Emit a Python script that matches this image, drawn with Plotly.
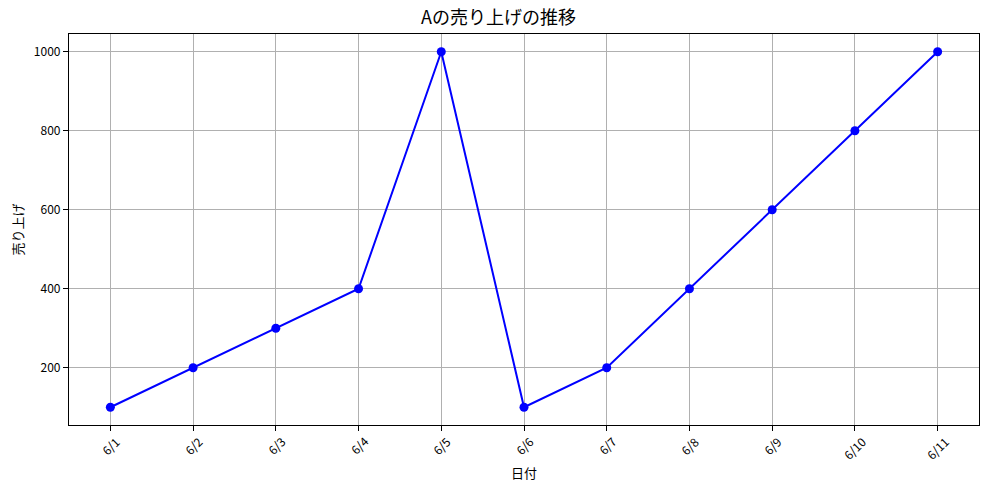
import plotly.graph_objects as go

# daily sales of A
dates = ["6/1", "6/2", "6/3", "6/4", "6/5", "6/6", "6/7", "6/8", "6/9", "6/10", "6/11"]
sales = [100, 200, 300, 400, 1000, 100, 200, 400, 600, 800, 1000]
y_ticks = [200, 400, 600, 800, 1000]

FONT = "Noto Sans CJK JP"
W, H = 981, 482  # page has an 8px body margin

x_pos = list(range(len(dates)))

fig = go.Figure(
    go.Scatter(
        x=x_pos,
        y=sales,
        mode="lines+markers",
        line=dict(color="blue", width=2),
        marker=dict(color="blue", size=9),
    )
)

axis_style = dict(
    showline=True,
    linecolor="black",
    linewidth=1.2,
    mirror=True,
    showgrid=True,
    gridcolor="#b0b0b0",
    gridwidth=1,
    ticks="outside",
    ticklen=5,
    tickcolor="black",
    zeroline=False,
    tickfont=dict(family=FONT, size=12, color="black"),
)

# x tick labels drawn as rotated annotations so they sit centred under the ticks
fig.update_xaxes(
    axis_style,
    range=[-0.5, 10.5],
    tickmode="array",
    tickvals=x_pos,
    showticklabels=False,
    title=dict(text="日付", font=dict(family=FONT, size=13, color="black"), standoff=38),
)
fig.update_yaxes(
    axis_style,
    range=[55, 1045],
    tickmode="array",
    tickvals=y_ticks,
    title=dict(text="売り上げ", font=dict(family=FONT, size=13, color="black"), standoff=8),
)

for x, label in zip(x_pos, dates):
    fig.add_annotation(
        x=x,
        y=0,
        xref="x",
        yref="paper",
        text=label,
        showarrow=False,
        textangle=-45,
        xanchor="center",
        yanchor="top",
        yshift=-5,
        font=dict(family=FONT, size=12, color="black"),
    )

fig.update_layout(
    title=dict(
        text="Aの売り上げの推移",
        x=0.5,
        xanchor="center",
        y=1,
        yanchor="top",
        pad=dict(t=3),
        font=dict(family=FONT, size=18, color="black"),
    ),
    width=W,
    height=H,
    margin=dict(l=59, r=9, t=26, b=65),
    plot_bgcolor="white",
    paper_bgcolor="white",
    showlegend=False,
    font=dict(family=FONT),
)

fig.write_html("out.html")
